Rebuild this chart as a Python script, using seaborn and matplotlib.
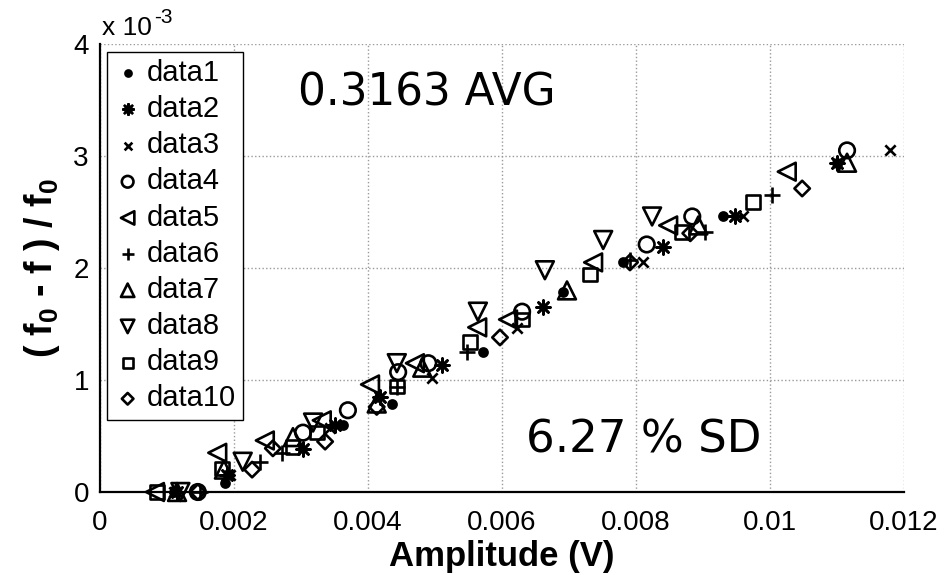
import matplotlib
matplotlib.use("Agg")
import matplotlib.pyplot as plt
import pandas as pd
import seaborn as sns

# Amplitude (V) and relative frequency shift (f0 - f)/f0 in units of 1e-3
amp_data1 = [0.00110, 0.00187, 0.00363, 0.00436, 0.00572, 0.00691, 0.00781, 0.00930, 0.01100]
shift_data1 = [0.00, 0.08, 0.60, 0.79, 1.25, 1.79, 2.05, 2.46, 2.94]

amp_data2 = [0.00115, 0.00190, 0.00303, 0.00351, 0.00418, 0.00510, 0.00661, 0.00840, 0.00948, 0.01100]
shift_data2 = [0.00, 0.15, 0.38, 0.60, 0.85, 1.13, 1.65, 2.19, 2.46, 2.94]

amp_data3 = [0.00110, 0.00194, 0.00343, 0.00496, 0.00622, 0.00810, 0.00960, 0.01179]
shift_data3 = [0.00, 0.15, 0.57, 1.02, 1.46, 2.05, 2.46, 3.05]

amp_data4 = [0.00146, 0.00303, 0.00370, 0.00445, 0.00490, 0.00630, 0.00816, 0.00884, 0.01115]
shift_data4 = [0.00, 0.53, 0.73, 1.07, 1.15, 1.61, 2.21, 2.46, 3.05]

amp_data5 = [0.00082, 0.00175, 0.00246, 0.00331, 0.00403, 0.00470, 0.00563, 0.00609, 0.00736, 0.00848, 0.01025]
shift_data5 = [0.00, 0.35, 0.46, 0.64, 0.96, 1.15, 1.47, 1.54, 2.05, 2.38, 2.86]

amp_data6 = [0.00150, 0.00239, 0.00272, 0.00443, 0.00548, 0.00791, 0.00903, 0.01003]
shift_data6 = [0.00, 0.27, 0.35, 0.94, 1.25, 2.07, 2.32, 2.65]

amp_data7 = [0.00115, 0.00185, 0.00288, 0.00413, 0.00481, 0.00697, 0.00893, 0.01115]
shift_data7 = [0.00, 0.20, 0.49, 0.79, 1.11, 1.80, 2.38, 2.94]

amp_data8 = [0.00120, 0.00213, 0.00318, 0.00443, 0.00564, 0.00664, 0.00751, 0.00824]
shift_data8 = [0.00, 0.27, 0.62, 1.15, 1.61, 1.98, 2.25, 2.46]

amp_data9 = [0.00085, 0.00182, 0.00287, 0.00324, 0.00443, 0.00552, 0.00630, 0.00731, 0.00869, 0.00975]
shift_data9 = [0.00, 0.21, 0.40, 0.53, 0.94, 1.34, 1.54, 1.94, 2.32, 2.59]

amp_data10 = [0.00146, 0.00227, 0.00258, 0.00336, 0.00413, 0.00597, 0.00791, 0.00881, 0.01048]
shift_data10 = [0.00, 0.20, 0.39, 0.45, 0.76, 1.38, 2.05, 2.31, 2.71]

series_names = ["data1", "data2", "data3", "data4", "data5",
                "data6", "data7", "data8", "data9", "data10"]
amps = [amp_data1, amp_data2, amp_data3, amp_data4, amp_data5,
        amp_data6, amp_data7, amp_data8, amp_data9, amp_data10]
shifts = [shift_data1, shift_data2, shift_data3, shift_data4, shift_data5,
          shift_data6, shift_data7, shift_data8, shift_data9, shift_data10]

x_ticks = [0, 0.002, 0.004, 0.006, 0.008, 0.01, 0.012]
x_tick_labels = ["0", "0.002", "0.004", "0.006", "0.008", "0.01", "0.012"]
y_ticks = [0, 1, 2, 3, 4]
y_tick_labels = ["0", "1", "2", "3", "4"]

avg_text = "0.3163 AVG"
sd_text = "6.27 % SD"

# marker, size, face colour ("none" = hollow outline)
styles = {
    "data1": ("o", 34, "black"),
    "data2": ((8, 2, 0), 100, "black"),
    "data3": ("x", 55, "black"),
    "data4": ("o", 125, "none"),
    "data5": ("<", 165, "none"),
    "data6": ("+", 130, "black"),
    "data7": ("^", 165, "none"),
    "data8": ("v", 165, "none"),
    "data9": ("s", 95, "none"),
    "data10": ("D", 62, "none"),
}

frames = []
for name, a, s in zip(series_names, amps, shifts):
    frames.append(pd.DataFrame({"amplitude": a, "shift": s, "series": name}))
df = pd.concat(frames, ignore_index=True)

sns.set_theme(style="white")
plt.rcParams["font.family"] = ["Liberation Sans", "DejaVu Sans"]
plt.rcParams["mathtext.fontset"] = "custom"
plt.rcParams["mathtext.rm"] = "Liberation Sans"
plt.rcParams["mathtext.bf"] = "Liberation Sans:bold"
plt.rcParams["text.color"] = "black"
plt.rcParams["axes.labelcolor"] = "black"

fig = plt.figure(figsize=(9.45, 5.75), dpi=100)
ax = fig.add_axes([100 / 945, 83 / 575, 804 / 945, 448 / 575])

for name in series_names:
    sub = df[df["series"] == name]
    marker, size, face = styles[name]
    sns.scatterplot(data=sub, x="amplitude", y="shift", ax=ax, label=name,
                    marker=marker, s=size, linewidth=1.9, facecolor=face,
                    edgecolor="black", zorder=3, clip_on=False)

ax.set_xlim(0, 0.012)
ax.set_ylim(0, 4)
ax.set_xticks(x_ticks)
ax.set_xticklabels(x_tick_labels)
ax.set_yticks(y_ticks)
ax.set_yticklabels(y_tick_labels)
ax.tick_params(axis="both", labelsize=20, direction="out", length=5,
               width=1.2, color="black", labelcolor="black")
ax.tick_params(axis="x", pad=8)
ax.tick_params(axis="y", pad=3)

ax.grid(True, linestyle=":", color="#9a9a9a", linewidth=1.0)
for side in ["top", "right"]:
    ax.spines[side].set_visible(False)
for side in ["left", "bottom"]:
    ax.spines[side].set_color("black")
    ax.spines[side].set_linewidth(1.6)

ax.set_xlabel("Amplitude (V)", fontsize=25, fontweight="bold", labelpad=3)
ax.set_ylabel(r"( f$_\mathbf{0}$ - f ) / f$_\mathbf{0}$", fontsize=27,
              fontweight="bold", labelpad=8)

# exponent note above the y axis
ax.text(0.003, 1.008, "x 10", transform=ax.transAxes, fontsize=19,
        ha="left", va="bottom")
ax.annotate("-3", xy=(0.003, 1.008), xycoords="axes fraction",
            xytext=(37, 10), textcoords="offset points", fontsize=15,
            ha="left", va="bottom")

ax.text(0.00296, 3.455, avg_text, fontsize=31.5, family="DejaVu Sans",
        ha="left", va="baseline", color="black")
ax.text(0.00636, 0.357, sd_text, fontsize=32.5, family="DejaVu Sans",
        ha="left", va="baseline", color="black")

leg = ax.legend(loc="upper left", bbox_to_anchor=(0.009, 0.983),
                fontsize=21, frameon=True, fancybox=False, framealpha=1,
                edgecolor="black", markerscale=0.75, handlelength=0.9,
                handletextpad=0.2, labelspacing=0.28, borderpad=0.25,
                borderaxespad=0)
leg.get_frame().set_linewidth(1.0)
for t in leg.get_texts():
    t.set_color("black")

fig.savefig("out.png", dpi=100)
